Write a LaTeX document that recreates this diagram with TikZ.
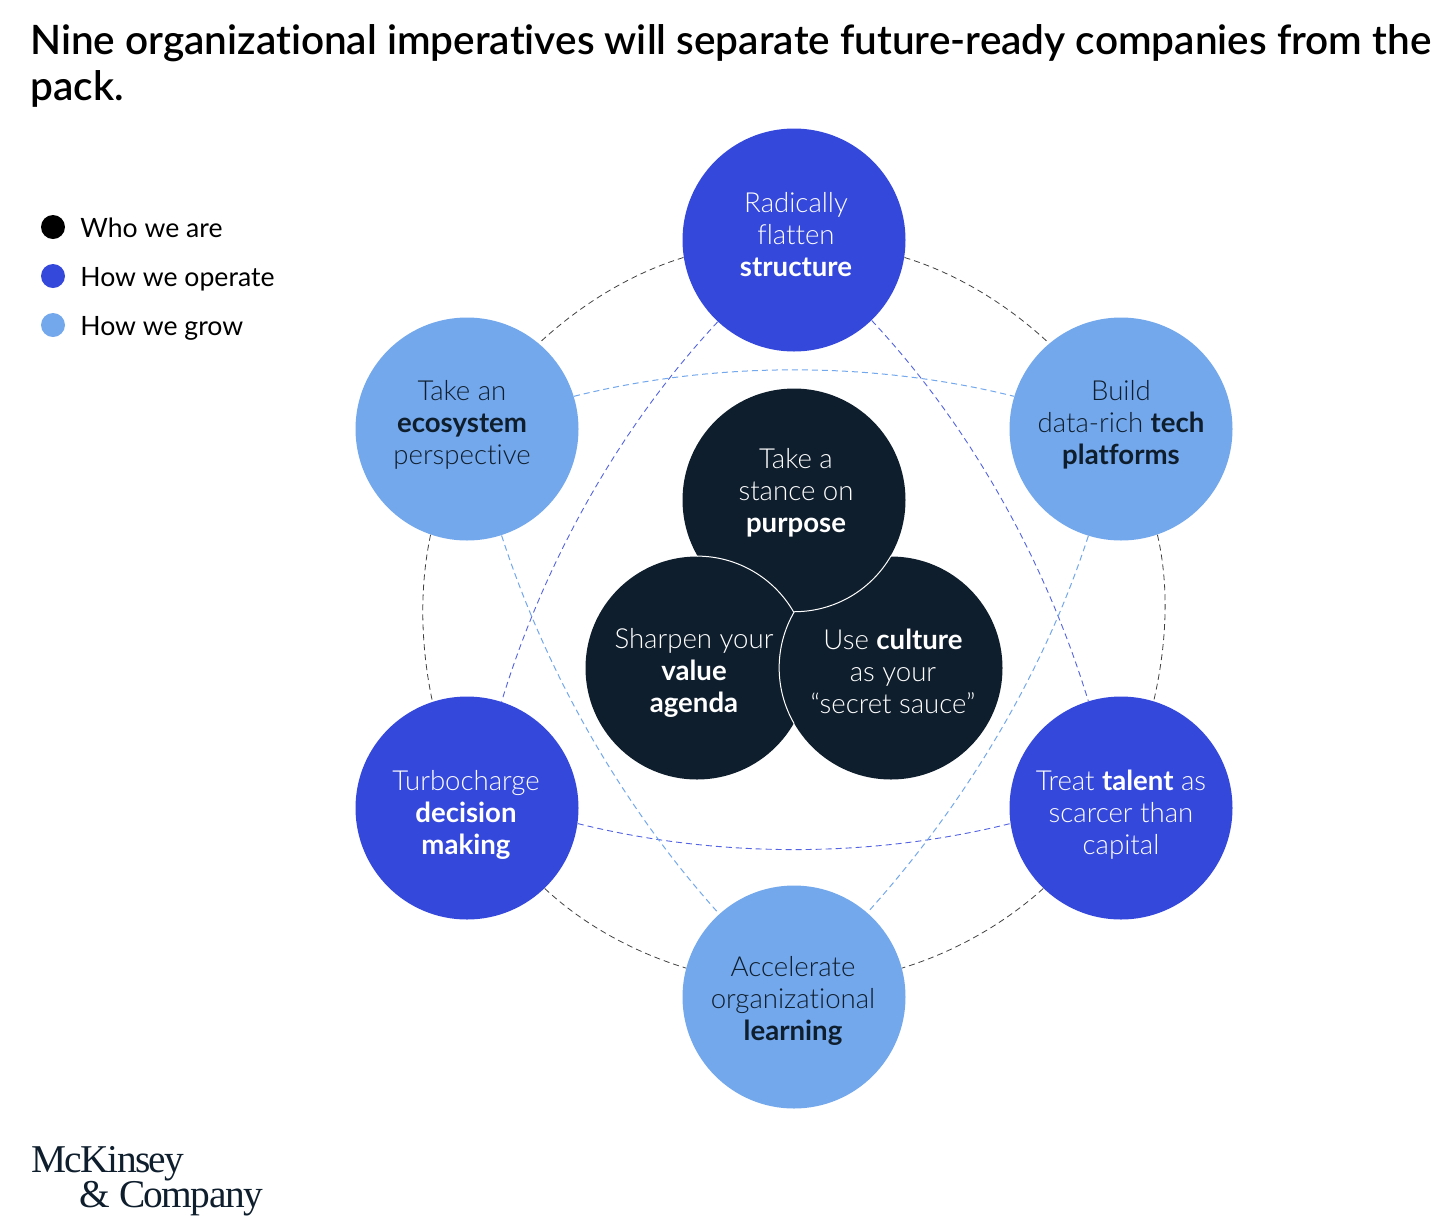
\documentclass[tikz,border=0pt]{standalone}
\usepackage{fontspec}
\setmainfont{Lato Light}[BoldFont=Lato Bold, Ligatures=NoCommon]
\newfontfamily\titlefont{Lato Semibold}[Ligatures=NoCommon]
\newfontfamily\legendfont{Lato}[Ligatures=NoCommon]
\newfontfamily\logofont{Liberation Serif}[LetterSpace=-4]
\definecolor{navy}{RGB}{15,30,45}
\definecolor{deepblue}{RGB}{53,72,220}
\definecolor{skyblue}{RGB}{116,168,236}
\begin{document}
\begin{tikzpicture}[x=.5pt, y=-.5pt,
	disc/.style={circle, minimum size=111.5pt, inner sep=0pt},
	whodisc/.style={disc, fill=navy},
	howdisc/.style={disc, fill=deepblue},
	growdisc/.style={disc, fill=skyblue},
	dot/.style={circle, minimum size=12pt, inner sep=0pt},
	lbl/.style={align=center, font=\fontsize{13.8}{16}\selectfont},
	legendtext/.style={anchor=base west, inner sep=0pt, font=\legendfont\fontsize{13.3}{16}\selectfont},
	ring/.style={densely dashed, line width=.4pt, color=black!75},
	linkdeep/.style={densely dashed, line width=.45pt, color=deepblue!85},
	linksky/.style={densely dashed, line width=.5pt, color=skyblue},
	looseness=.85]
	\useasboundingbox (0,0) rectangle (1456,1227);
	\node[anchor=north west, align=left, inner sep=0pt, font=\titlefont\fontsize{20.25}{23}\selectfont] (title) at (30,24) {Nine organizational imperatives will separate future-ready companies from the\\pack.};
	\node[dot, fill=black] (whodot) at (53,227) {};
	\node[dot, fill=deepblue] (howdot) at (53,276) {};
	\node[dot, fill=skyblue] (growdot) at (53,325) {};
	\node[legendtext] (whotext) at (80,237) {Who we are};
	\node[legendtext] (howtext) at (80,286) {How we operate};
	\node[legendtext] (growtext) at (80,335) {How we grow};
	\node[howdisc] (flatten) at (794,240) {};
	\node[growdisc] (platforms) at (1121,429) {};
	\node[howdisc] (talent) at (1121,808) {};
	\node[growdisc] (learning) at (794,997) {};
	\node[howdisc] (decision) at (467,808) {};
	\node[growdisc] (ecosystem) at (467,429) {};
	\draw[ring] (flatten.-9) to[out=-17, in=137] (platforms.130);
	\draw[ring] (platforms.-71) to[out=-77, in=77] (talent.73);
	\draw[ring] (talent.-134) to[out=-138, in=17] (learning.15);
	\draw[ring] (decision.-46) to[out=-43, in=163] (learning.165);
	\draw[ring] (ecosystem.-109) to[out=-102, in=102] (decision.108);
	\draw[ring] (flatten.189) to[out=197, in=43] (ecosystem.50);
	\draw[linkdeep] (flatten.-133) to[out=227, in=73] (decision.72);
	\draw[linkdeep] (flatten.-46) to[out=-47, in=107] (talent.107);
	\draw[linkdeep] (decision.-8) to[out=-14, in=194] (talent.188);
	\draw[linksky] (ecosystem.17) to[out=14, in=166] (platforms.163);
	\draw[linksky] (ecosystem.-72) to[out=-72, in=132] (learning.132);
	\draw[linksky] (platforms.-107) to[out=252, in=48] (learning.49);
	\node[whodisc] (purpose) at (794,500) {};
	\node[whodisc] (value) at (697,668) {};
	\node[whodisc] (culture) at (891,668) {};
	\draw[white, line width=.5pt] (value.90) arc[start angle=90, end angle=30, radius=55.75pt];
	\draw[white, line width=.5pt] (purpose.-30) arc[start angle=-30, end angle=-90, radius=55.75pt];
	\draw[white, line width=.5pt] (culture.150) arc[start angle=150, end angle=210, radius=55.75pt];
	\node[lbl, text=white] (flattentext) at (796,235) {Radically\\flatten\\\textbf{structure}};
	\node[lbl, text=navy] (platformstext) at (1121,425) {Build\\data-rich \textbf{tech}\\\textbf{platforms}};
	\node[lbl, text=white] (talenttext) at (1121,815) {Treat \textbf{talent} as\\scarcer than\\capital};
	\node[lbl, text=navy] (learningtext) at (793,1001) {Accelerate\\organizational\\\textbf{learning}};
	\node[lbl, text=white] (decisiontext) at (466,815) {Turbocharge\\\textbf{decision}\\\textbf{making}};
	\node[lbl, text=navy] (ecosystemtext) at (462,425) {Take an\\\textbf{ecosystem}\\perspective};
	\node[lbl, text=white] (purposetext) at (796,493) {Take a\\stance on\\\textbf{purpose}};
	\node[lbl, text=white] (valuetext) at (694,673) {Sharpen your\\\textbf{value}\\\textbf{agenda}};
	\node[lbl, text=white] (culturetext) at (893,671) {Use \textbf{culture}\\as your\\“secret sauce”};
	\node[anchor=base west, inner sep=0pt, text=navy, font=\logofont\fontsize{19.7}{20}\selectfont] (logotop) at (31,1172) {McKinsey};
	\node[anchor=base west, inner sep=0pt, text=navy, font=\logofont\fontsize{19.7}{20}\selectfont] (logobottom) at (79,1207) {\&\hspace{4.5pt}Company};
\end{tikzpicture}
\end{document}
